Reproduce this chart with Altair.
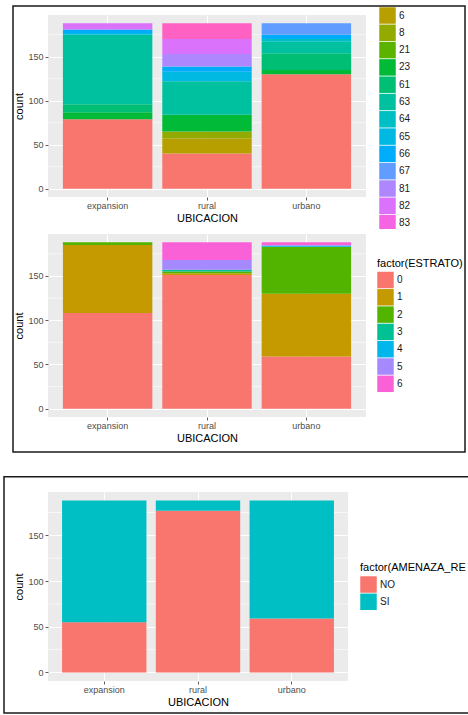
import altair as alt
import pandas as pd

FONT = "Liberation Sans"

ubicacion = ["expansion", "rural", "urbano"]

# Upper panel: code levels (legend order) and counts per location
codigo_niveles = ["0", "6", "8", "21", "23", "61", "63", "64", "65", "66", "67", "81", "82", "83", "84"]
codigo_colores = ["#F8766D", "#B79F00", "#93AA00", "#5BB300", "#00BA38", "#00BF74", "#00C19F",
                  "#00BFC4", "#00B9E3", "#00ADFA", "#619CFF", "#AE87FF", "#DB72FB", "#F564E3",
                  "#FF61C3"]
codigo_expansion = [79, 0, 0, 0, 8, 9, 79, 0, 2, 4, 0, 0, 7, 0, 0]
codigo_rural = [40, 17, 8, 0, 19, 0, 38, 0, 11, 6, 0, 14, 17, 0, 18]
codigo_urbano = [130, 0, 0, 0, 5, 19, 13, 3, 0, 5, 13, 0, 0, 0, 0]
codigo_leyenda = ["6", "8", "21", "23", "61", "63", "64", "65", "66", "67", "81", "82", "83"]

# Middle panel: ESTRATO
estrato_niveles = ["0", "1", "2", "3", "4", "5", "6"]
estrato_colores = ["#F8766D", "#C49A00", "#53B400", "#00C094", "#00B6EB", "#A58AFF", "#FB61D7"]
estrato_expansion = [108, 77, 3, 0, 0, 0, 0]
estrato_rural = [151, 2, 2, 2, 0, 11, 20]
estrato_urbano = [59, 71, 53, 0, 1, 1, 3]

# Lower panel: AMENAZA
amenaza_niveles = ["NO", "SI"]
amenaza_colores = ["#F8766D", "#00BFC4"]
amenaza_expansion = [55, 133]
amenaza_rural = [177, 11]
amenaza_urbano = [59, 129]

y_major = [0, 50, 100, 150]
y_minor = [25, 75, 125, 175]
y_total = 188


def long_table(levels, rows):
    recs = []
    for u, counts in zip(ubicacion, rows):
        for rank, (lvl, n) in enumerate(zip(levels, counts)):
            if n > 0:
                recs.append({"UBICACION": u, "nivel": lvl, "orden": rank, "count": n})
    return pd.DataFrame(recs)


one = pd.DataFrame({"k": [0]})


def panel(df, levels, colors, width, height, legend, extras=()):
    yscale = alt.Scale(domain=[-0.05 * y_total, 1.05 * y_total], nice=False, zero=False)
    yaxis = alt.Axis(values=y_major, labelPadding=2, titlePadding=3)
    xenc = alt.X("UBICACION:N", sort=ubicacion, title="UBICACION",
                 scale=alt.Scale(domain=ubicacion, paddingInner=0.1, paddingOuter=0.15),
                 axis=alt.Axis(labelAngle=0, grid=True, bandPosition=0.5,
                               labelPadding=1, titlePadding=2))
    minor = alt.Chart(pd.DataFrame({"v": y_minor})).mark_rule(
        color="white", strokeWidth=0.6
    ).encode(
        y=alt.Y("v:Q", title="count", scale=yscale, axis=yaxis),
        x=alt.value(0), x2=alt.value(width),
    )
    bars = alt.Chart(df).mark_bar().encode(
        x=xenc,
        y=alt.Y("count:Q", stack="zero", title="count", scale=yscale, axis=yaxis),
        color=alt.Color("nivel:N", scale=alt.Scale(domain=levels, range=colors), legend=legend),
        order=alt.Order("orden:Q", sort="ascending"),
    )
    return alt.layer(minor, bars, *extras).properties(width=width, height=height)


def box(x0, x1, y0, y1):
    return alt.Chart(one).mark_rect(filled=False, stroke="#1a1a1a", strokeWidth=1.5).encode(
        x=alt.value(x0), x2=alt.value(x1), y=alt.value(y0), y2=alt.value(y1)
    )


leg1 = alt.Legend(orient="none", legendX=331, legendY=-8, title=None, values=codigo_leyenda)
leg2 = alt.Legend(orient="none", legendX=329, legendY=23.5, title="factor(ESTRATO)", titlePadding=3)
leg3 = alt.Legend(orient="none", legendX=312, legendY=70, title="factor(AMENAZA_RE", titlePadding=3)

c1 = panel(long_table(codigo_niveles, [codigo_expansion, codigo_rural, codigo_urbano]),
           codigo_niveles, codigo_colores, 318, 182, leg1,
           extras=[box(-35, 417, -9, 437)])

cover = alt.Chart(one).mark_rect(color="white").encode(
    x=alt.value(325), x2=alt.value(365), y=alt.value(-5), y2=alt.value(-0.5)
)
c2 = panel(long_table(estrato_niveles, [estrato_expansion, estrato_rural, estrato_urbano]),
           estrato_niveles, estrato_colores, 318, 183, leg2, extras=[cover])

c3 = panel(long_table(amenaza_niveles, [amenaza_expansion, amenaza_rural, amenaza_urbano]),
           amenaza_niveles, amenaza_colores, 300, 189, leg3,
           extras=[box(-44, 430, -15.3, 221)])

spacer = alt.Chart(one).mark_point(opacity=0).encode(
    x=alt.value(0), y=alt.value(0)
).properties(width=1, height=1, view=alt.ViewBackground(opacity=0))

chart = alt.vconcat(c1, c2, spacer, c3, spacing=37, bounds="flush").resolve_scale(
    x="independent", y="independent", color="independent"
).properties(
    autosize=alt.AutoSizeParams(type="none"),
    padding={"left": 48, "top": 15, "right": 420, "bottom": 700},
    background="white",
).configure_view(
    fill="#EBEBEB", stroke=None
).configure_axis(
    domain=False, gridColor="white", gridWidth=1.1,
    tickColor="#333333", tickSize=3, tickWidth=0.8,
    labelColor="#4D4D4D", labelFont=FONT, labelFontSize=9,
    titleFont=FONT, titleFontSize=11, titleFontWeight="normal", titleColor="black",
).configure_legend(
    labelFont=FONT, labelFontSize=10, labelColor="#1a1a1a", labelOffset=3,
    titleFont=FONT, titleFontSize=11, titleFontWeight="normal", titleColor="black",
    symbolType="square", symbolSize=272, symbolStrokeWidth=0, rowPadding=0.3, padding=0,
)

chart.save("out.html", embed_options={"renderer": "svg", "actions": False})
